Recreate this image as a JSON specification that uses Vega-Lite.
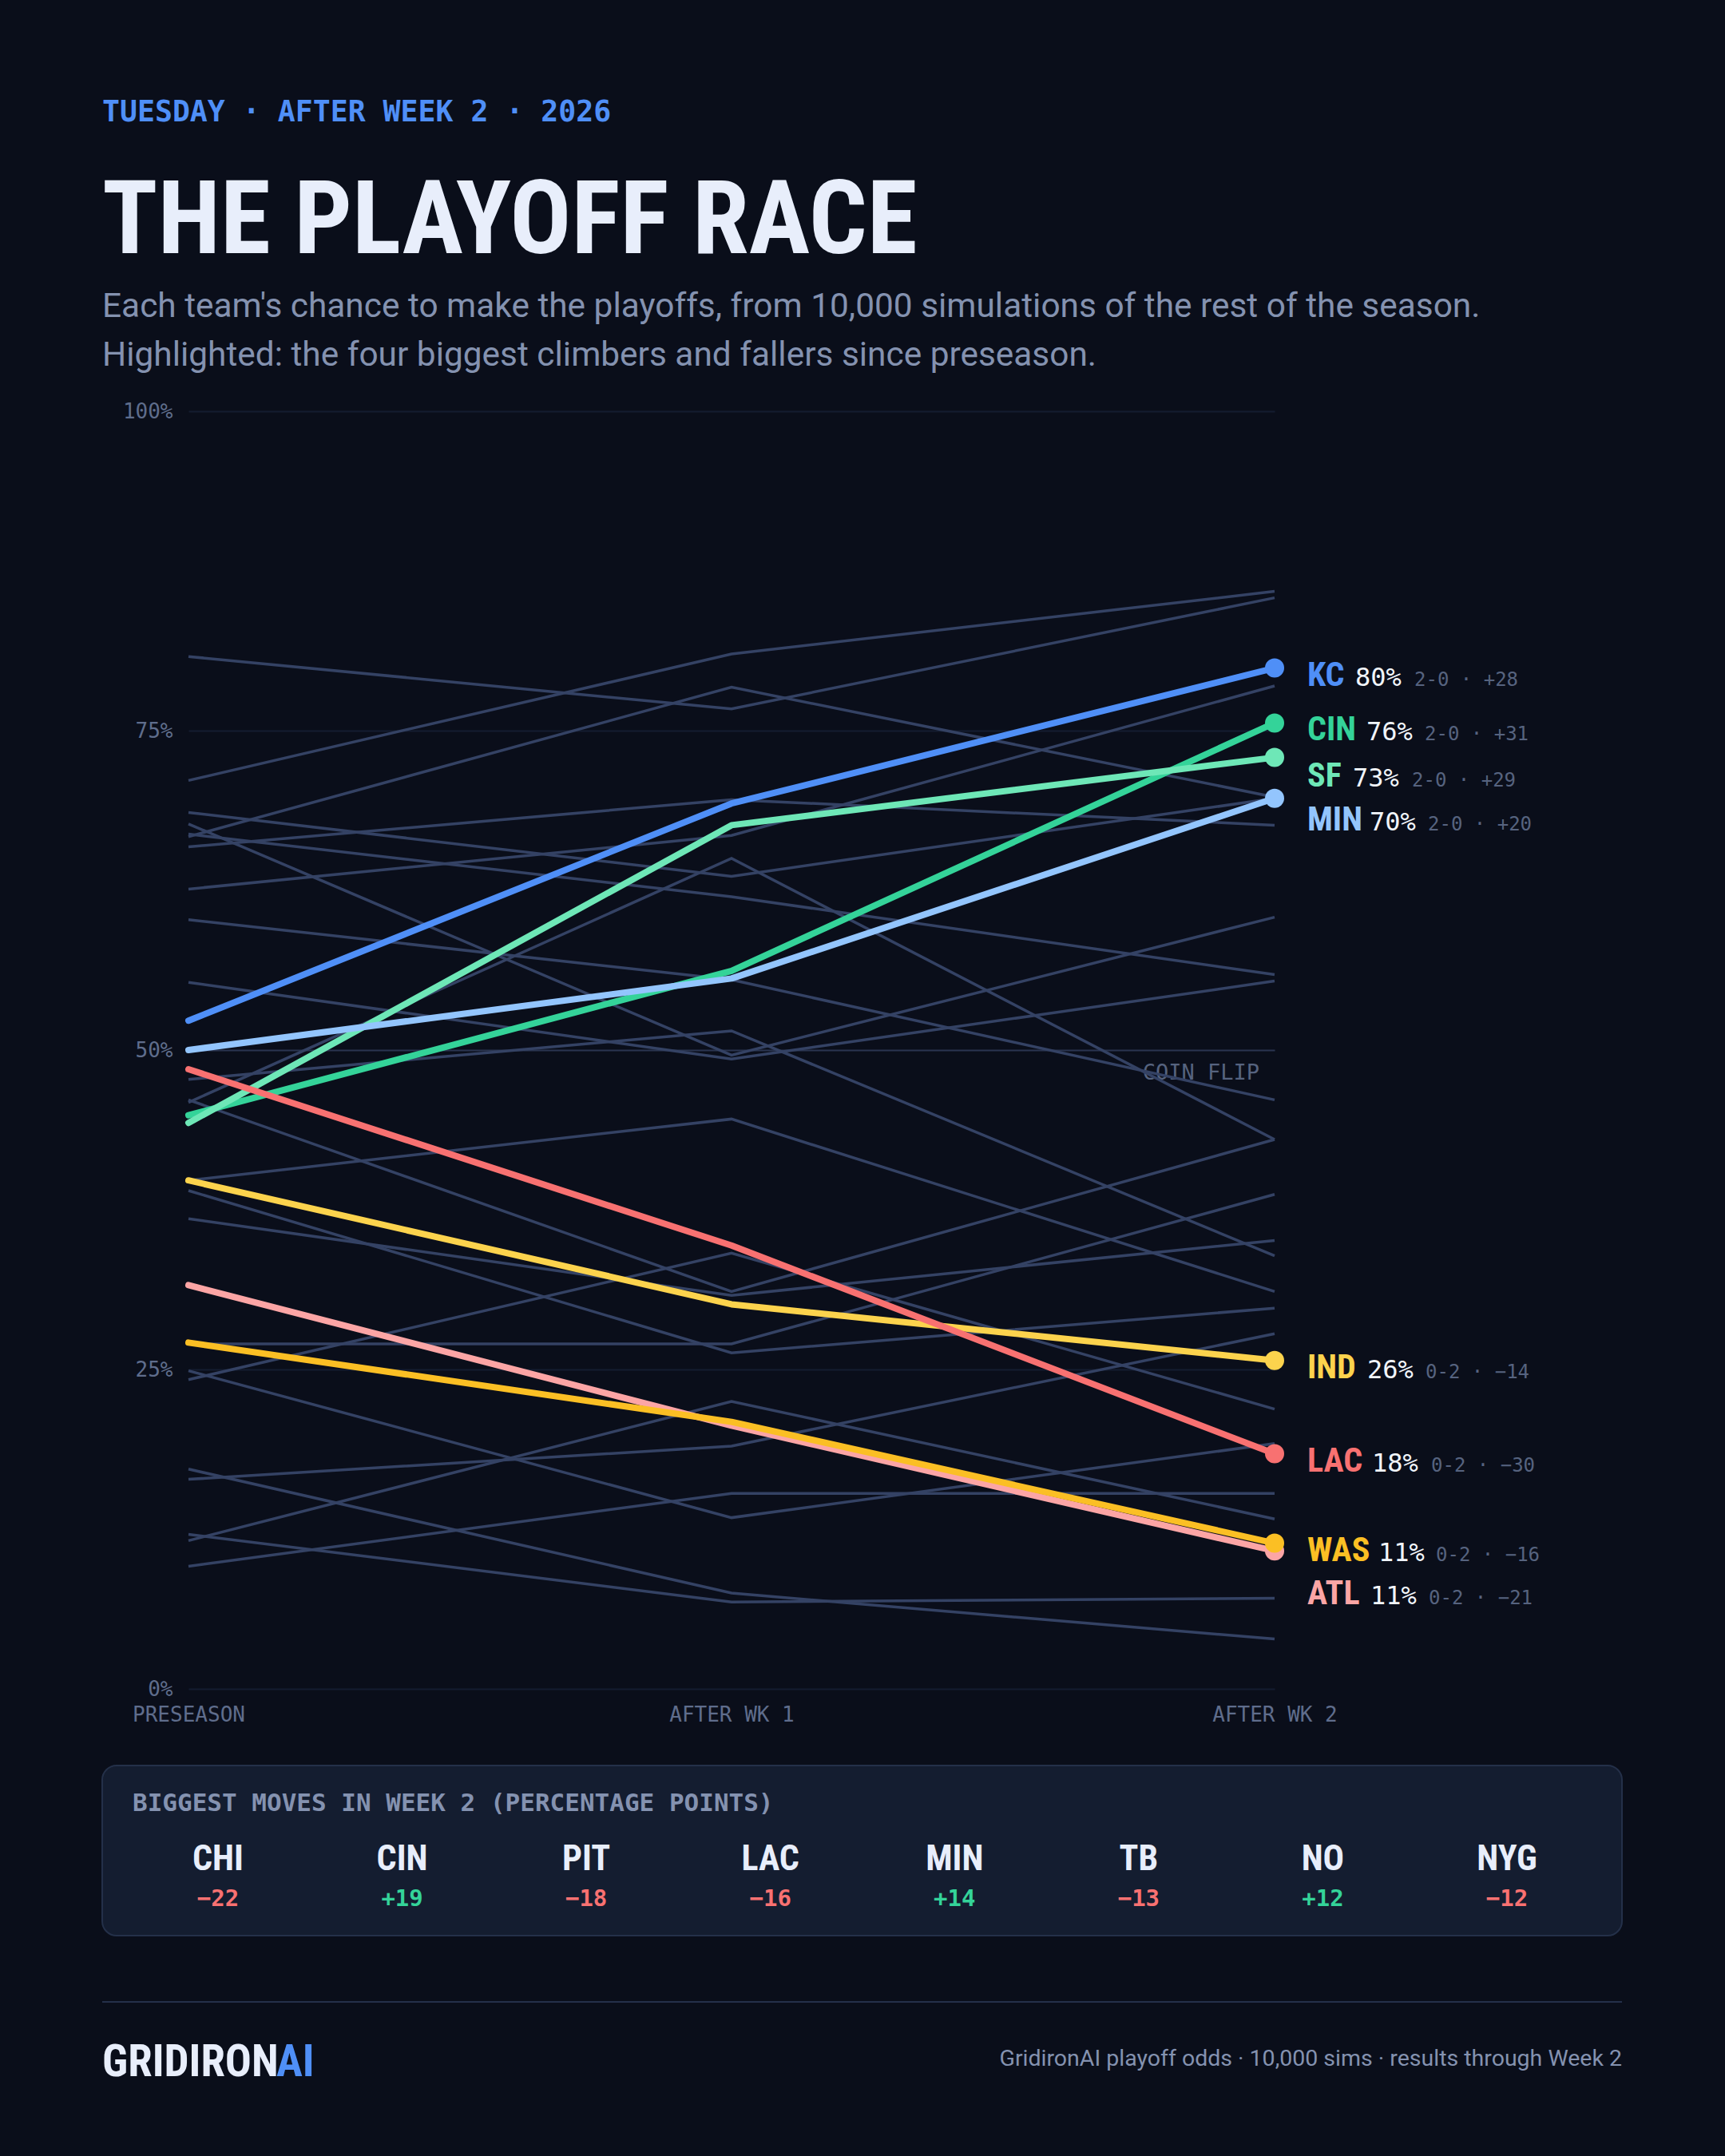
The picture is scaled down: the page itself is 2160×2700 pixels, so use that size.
{
  "$schema": "https://vega.github.io/schema/vega-lite/v6.json",
  "width": 1360,
  "height": 1600,
  "autosize": "none",
  "padding": {"left": 236, "top": 515, "right": 564, "bottom": 585},
  "background": "#0a0e1a",
  "config": {"view": {"stroke": null}},
  "params": [
    {"name": "nameDy", "value": {"KC": 22, "CIN": 22, "SF": 36, "MIN": 40, "IND": 22, "LAC": 22, "WAS": 22, "ATL": 67}},
    {"name": "pctDx", "value": {"KC": 101, "CIN": 115, "SF": 98, "MIN": 119, "IND": 116, "LAC": 122, "WAS": 130, "ATL": 120}},
    {"name": "noteDx", "value": {"KC": 175, "CIN": 188, "SF": 172, "MIN": 192, "IND": 189, "LAC": 196, "WAS": 202, "ATL": 193}}
  ],
  "datasets": {
    "odds": [
      {"team": "BUF", "stage": "PRESEASON", "pct": 80.8}, {"team": "BUF", "stage": "AFTER WK 1", "pct": 76.7}, {"team": "BUF", "stage": "AFTER WK 2", "pct": 85.4},
      {"team": "BAL", "stage": "PRESEASON", "pct": 71.1}, {"team": "BAL", "stage": "AFTER WK 1", "pct": 81.0}, {"team": "BAL", "stage": "AFTER WK 2", "pct": 85.9},
      {"team": "PHI", "stage": "PRESEASON", "pct": 68.6}, {"team": "PHI", "stage": "AFTER WK 1", "pct": 63.6}, {"team": "PHI", "stage": "AFTER WK 2", "pct": 69.7},
      {"team": "DET", "stage": "PRESEASON", "pct": 67.7}, {"team": "DET", "stage": "AFTER WK 1", "pct": 49.6}, {"team": "DET", "stage": "AFTER WK 2", "pct": 60.4},
      {"team": "GB", "stage": "PRESEASON", "pct": 66.9}, {"team": "GB", "stage": "AFTER WK 1", "pct": 62.0}, {"team": "GB", "stage": "AFTER WK 2", "pct": 55.9},
      {"team": "DAL", "stage": "PRESEASON", "pct": 66.7}, {"team": "DAL", "stage": "AFTER WK 1", "pct": 78.4}, {"team": "DAL", "stage": "AFTER WK 2", "pct": 69.8},
      {"team": "HOU", "stage": "PRESEASON", "pct": 65.9}, {"team": "HOU", "stage": "AFTER WK 1", "pct": 69.6}, {"team": "HOU", "stage": "AFTER WK 2", "pct": 67.6},
      {"team": "NO", "stage": "PRESEASON", "pct": 62.6}, {"team": "NO", "stage": "AFTER WK 1", "pct": 66.8}, {"team": "NO", "stage": "AFTER WK 2", "pct": 78.5},
      {"team": "LAR", "stage": "PRESEASON", "pct": 60.2}, {"team": "LAR", "stage": "AFTER WK 1", "pct": 55.5}, {"team": "LAR", "stage": "AFTER WK 2", "pct": 46.1},
      {"team": "SEA", "stage": "PRESEASON", "pct": 55.3}, {"team": "SEA", "stage": "AFTER WK 1", "pct": 49.3}, {"team": "SEA", "stage": "AFTER WK 2", "pct": 55.4},
      {"team": "PIT", "stage": "PRESEASON", "pct": 47.7}, {"team": "PIT", "stage": "AFTER WK 1", "pct": 51.5}, {"team": "PIT", "stage": "AFTER WK 2", "pct": 33.9},
      {"team": "MIA", "stage": "PRESEASON", "pct": 46.1}, {"team": "MIA", "stage": "AFTER WK 1", "pct": 31.1}, {"team": "MIA", "stage": "AFTER WK 2", "pct": 43.0},
      {"team": "CHI", "stage": "PRESEASON", "pct": 45.9}, {"team": "CHI", "stage": "AFTER WK 1", "pct": 65.0}, {"team": "CHI", "stage": "AFTER WK 2", "pct": 43.0},
      {"team": "TB", "stage": "PRESEASON", "pct": 39.8}, {"team": "TB", "stage": "AFTER WK 1", "pct": 44.6}, {"team": "TB", "stage": "AFTER WK 2", "pct": 31.1},
      {"team": "JAX", "stage": "PRESEASON", "pct": 39.0}, {"team": "JAX", "stage": "AFTER WK 1", "pct": 26.3}, {"team": "JAX", "stage": "AFTER WK 2", "pct": 29.8},
      {"team": "DEN", "stage": "PRESEASON", "pct": 36.8}, {"team": "DEN", "stage": "AFTER WK 1", "pct": 30.8}, {"team": "DEN", "stage": "AFTER WK 2", "pct": 35.1},
      {"team": "CLE", "stage": "PRESEASON", "pct": 27.0}, {"team": "CLE", "stage": "AFTER WK 1", "pct": 27.0}, {"team": "CLE", "stage": "AFTER WK 2", "pct": 38.7},
      {"team": "NYJ", "stage": "PRESEASON", "pct": 24.9}, {"team": "NYJ", "stage": "AFTER WK 1", "pct": 13.4}, {"team": "NYJ", "stage": "AFTER WK 2", "pct": 19.2},
      {"team": "NYG", "stage": "PRESEASON", "pct": 24.2}, {"team": "NYG", "stage": "AFTER WK 1", "pct": 34.1}, {"team": "NYG", "stage": "AFTER WK 2", "pct": 21.9},
      {"team": "ARI", "stage": "PRESEASON", "pct": 17.2}, {"team": "ARI", "stage": "AFTER WK 1", "pct": 7.5}, {"team": "ARI", "stage": "AFTER WK 2", "pct": 3.9},
      {"team": "CAR", "stage": "PRESEASON", "pct": 16.4}, {"team": "CAR", "stage": "AFTER WK 1", "pct": 19.0}, {"team": "CAR", "stage": "AFTER WK 2", "pct": 27.8},
      {"team": "LV", "stage": "PRESEASON", "pct": 12.1}, {"team": "LV", "stage": "AFTER WK 1", "pct": 6.8}, {"team": "LV", "stage": "AFTER WK 2", "pct": 7.1},
      {"team": "NE", "stage": "PRESEASON", "pct": 11.6}, {"team": "NE", "stage": "AFTER WK 1", "pct": 22.5}, {"team": "NE", "stage": "AFTER WK 2", "pct": 13.3},
      {"team": "TEN", "stage": "PRESEASON", "pct": 9.6}, {"team": "TEN", "stage": "AFTER WK 1", "pct": 15.3}, {"team": "TEN", "stage": "AFTER WK 2", "pct": 15.3}
    ],
    "climbers": [
      {"team": "CIN", "stage": "PRESEASON", "pct": 44.9}, {"team": "CIN", "stage": "AFTER WK 1", "pct": 56.2}, {"team": "CIN", "stage": "AFTER WK 2", "pct": 75.6},
      {"team": "SF", "stage": "PRESEASON", "pct": 44.3}, {"team": "SF", "stage": "AFTER WK 1", "pct": 67.6}, {"team": "SF", "stage": "AFTER WK 2", "pct": 72.9},
      {"team": "KC", "stage": "PRESEASON", "pct": 52.3}, {"team": "KC", "stage": "AFTER WK 1", "pct": 69.3}, {"team": "KC", "stage": "AFTER WK 2", "pct": 79.9},
      {"team": "MIN", "stage": "PRESEASON", "pct": 50.0}, {"team": "MIN", "stage": "AFTER WK 1", "pct": 55.6}, {"team": "MIN", "stage": "AFTER WK 2", "pct": 69.7},
      {"team": "ATL", "stage": "PRESEASON", "pct": 31.6}, {"team": "ATL", "stage": "AFTER WK 1", "pct": 20.6}, {"team": "ATL", "stage": "AFTER WK 2", "pct": 10.8},
      {"team": "WAS", "stage": "PRESEASON", "pct": 27.1}, {"team": "WAS", "stage": "AFTER WK 1", "pct": 20.9}, {"team": "WAS", "stage": "AFTER WK 2", "pct": 11.4},
      {"team": "IND", "stage": "PRESEASON", "pct": 39.8}, {"team": "IND", "stage": "AFTER WK 1", "pct": 30.1}, {"team": "IND", "stage": "AFTER WK 2", "pct": 25.7},
      {"team": "LAC", "stage": "PRESEASON", "pct": 48.5}, {"team": "LAC", "stage": "AFTER WK 1", "pct": 34.7}, {"team": "LAC", "stage": "AFTER WK 2", "pct": 18.4}
    ],
    "finals": [
      {"team": "CIN", "stage": "AFTER WK 2", "pct": 75.6, "pctLabel": "76%", "note": "2-0 · +31"},
      {"team": "SF", "stage": "AFTER WK 2", "pct": 72.9, "pctLabel": "73%", "note": "2-0 · +29"},
      {"team": "KC", "stage": "AFTER WK 2", "pct": 79.9, "pctLabel": "80%", "note": "2-0 · +28"},
      {"team": "MIN", "stage": "AFTER WK 2", "pct": 69.7, "pctLabel": "70%", "note": "2-0 · +20"},
      {"team": "ATL", "stage": "AFTER WK 2", "pct": 10.8, "pctLabel": "11%", "note": "0-2 · −21"},
      {"team": "WAS", "stage": "AFTER WK 2", "pct": 11.4, "pctLabel": "11%", "note": "0-2 · −16"},
      {"team": "IND", "stage": "AFTER WK 2", "pct": 25.7, "pctLabel": "26%", "note": "0-2 · −14"},
      {"team": "LAC", "stage": "AFTER WK 2", "pct": 18.4, "pctLabel": "18%", "note": "0-2 · −30"}
    ],
    "moves": [
      {"team": "CHI", "move": -22}, {"team": "CIN", "move": 19}, {"team": "PIT", "move": -18}, {"team": "LAC", "move": -16},
      {"team": "MIN", "move": 14}, {"team": "TB", "move": -13}, {"team": "NO", "move": 12}, {"team": "NYG", "move": -12}
    ],
    "page": [
      {"slot": "eyebrow", "band": "head", "col": "left", "text": "TUESDAY · AFTER WEEK 2 · 2026"},
      {"slot": "title", "band": "head", "col": "left", "text": "THE PLAYOFF RACE"},
      {"slot": "sub1", "band": "head", "col": "left", "text": "Each team's chance to make the playoffs, from 10,000 simulations of the rest of the season."},
      {"slot": "sub2", "band": "head", "col": "left", "text": "Highlighted: the four biggest climbers and fallers since preseason."},
      {"slot": "movesHead", "band": "foot", "col": "left", "text": "BIGGEST MOVES IN WEEK 2 (PERCENTAGE POINTS)"},
      {"slot": "brand", "band": "foot", "col": "left", "text": "GRIDIRON"},
      {"slot": "brandAi", "band": "foot", "col": "left", "text": "AI"},
      {"slot": "source", "band": "foot", "col": "right", "text": "GridironAI playoff odds · 10,000 sims · results through Week 2"}
    ]
  },
  "resolve": {
    "scale": {"x": "independent", "y": "independent"},
    "axis": {"x": "independent", "y": "independent"}
  },
  "layer": [
    {
      "encoding": {
        "x": {
          "field": "stage",
          "type": "nominal",
          "title": null,
          "scale": {"type": "point", "domain": ["PRESEASON", "AFTER WK 1", "AFTER WK 2"], "padding": 0},
          "axis": {
            "domain": false,
            "ticks": false,
            "labelAngle": 0,
            "labelFont": "DejaVu Sans Mono",
            "labelFontSize": 26,
            "labelColor": "#5f6d8c",
            "labelPadding": 19,
            "labelFlush": false,
            "labelBound": false,
            "labelOverlap": false
          }
        },
        "y": {
          "field": "pct",
          "type": "quantitative",
          "title": null,
          "scale": {"domain": [0, 100]},
          "axis": {
            "values": [0, 25, 50, 75, 100],
            "labelExpr": "datum.value + '%'",
            "domain": false,
            "ticks": false,
            "grid": true,
            "gridWidth": 2,
            "gridColor": {"condition": {"test": "datum.value === 50", "value": "#2a3550"}, "value": "#141c30"},
            "labelFont": "DejaVu Sans Mono",
            "labelFontSize": 26,
            "labelColor": "#5f6d8c",
            "labelPadding": 20,
            "labelBound": false
          }
        }
      },
      "layer": [
        {
          "data": {"values": [{"stage": "AFTER WK 2", "pct": 50, "text": "COIN FLIP"}]},
          "mark": {"type": "text", "font": "DejaVu Sans Mono", "fontSize": 27, "align": "right", "baseline": "alphabetic", "dx": -19, "dy": 37, "color": "#56637f"},
          "encoding": {"text": {"field": "text", "type": "nominal"}}
        },
        {
          "data": {"name": "odds"},
          "mark": {"type": "line", "color": "#344264", "strokeWidth": 3.5, "clip": false},
          "encoding": {"detail": {"field": "team", "type": "nominal"}}
        },
        {
          "data": {"name": "climbers"},
          "mark": {"type": "line", "strokeWidth": 8, "strokeCap": "round", "strokeJoin": "round"},
          "encoding": {
            "color": {
              "field": "team",
              "type": "nominal",
              "legend": null,
              "scale": {
                "domain": ["KC", "CIN", "SF", "MIN", "IND", "LAC", "WAS", "ATL"],
                "range": ["#4f8ff7", "#34d399", "#6ee7b7", "#93c5fd", "#fcd34d", "#f87171", "#fbbf24", "#fca5a5"]
              }
            }
          }
        },
        {
          "data": {"name": "finals"},
          "mark": {"type": "circle", "size": 576, "opacity": 1},
          "encoding": {"color": {"field": "team", "type": "nominal", "legend": null}}
        },
        {
          "data": {"name": "finals"},
          "mark": {"type": "text", "font": "Noto Sans ExtraCondensed, Noto Sans Condensed, Roboto Condensed, Open Sans Condensed, Roboto", "fontWeight": "bold", "fontSize": 42, "align": "left", "baseline": "alphabetic", "dx": 41, "dy": {"expr": "nameDy[datum.team]"}},
          "encoding": {"text": {"field": "team", "type": "nominal"}, "color": {"field": "team", "type": "nominal", "legend": null}}
        },
        {
          "data": {"name": "finals"},
          "mark": {"type": "text", "font": "DejaVu Sans Mono", "fontSize": 32, "align": "left", "baseline": "alphabetic", "color": "#f1f5fb", "dx": {"expr": "pctDx[datum.team]"}, "dy": {"expr": "nameDy[datum.team]"}},
          "encoding": {"text": {"field": "pctLabel", "type": "nominal"}}
        },
        {
          "data": {"name": "finals"},
          "mark": {"type": "text", "font": "DejaVu Sans Mono", "fontSize": 24, "align": "left", "baseline": "alphabetic", "color": "#56637f", "dx": {"expr": "noteDx[datum.team]"}, "dy": {"expr": "nameDy[datum.team]"}},
          "encoding": {"text": {"field": "note", "type": "nominal"}}
        }
      ]
    },
    {
      "data": {"values": [{"from": 0, "to": 1}]},
      "mark": {"type": "rect", "fill": "#141d30", "stroke": "#243049", "strokeWidth": 2, "cornerRadius": 18},
      "encoding": {
        "x": {"field": "from", "type": "quantitative", "axis": null, "scale": {"domain": [0, 1], "range": [-108, 1795]}},
        "x2": {"field": "to"},
        "y": {"field": "from", "type": "quantitative", "axis": null, "scale": {"domain": [0, 1], "range": [1696, 1909]}},
        "y2": {"field": "to"}
      }
    },
    {
      "data": {"values": [{"from": 0, "to": 1}]},
      "mark": {"type": "rule", "color": "#243049", "strokeWidth": 2},
      "encoding": {
        "x": {"field": "from", "type": "quantitative", "axis": null, "scale": {"domain": [0, 1], "range": [-108, 1795]}},
        "x2": {"field": "to"},
        "y": {"datum": "footer", "type": "nominal", "axis": null, "scale": {"type": "point", "domain": ["footer"], "range": [1992, 1992]}}
      }
    },
    {
      "data": {"name": "moves"},
      "encoding": {
        "x": {"field": "team", "type": "nominal", "axis": null, "scale": {"type": "point", "domain": ["CHI", "CIN", "PIT", "LAC", "MIN", "TB", "NO", "NYG"], "range": [37, 1651], "padding": 0}},
        "y": {"datum": "team", "type": "nominal", "axis": null, "scale": {"type": "point", "domain": ["team", "move"], "range": [1827, 1872], "padding": 0}}
      },
      "layer": [
        {
          "mark": {"type": "text", "font": "Noto Sans ExtraCondensed, Noto Sans Condensed, Roboto Condensed, Open Sans Condensed, Roboto", "fontWeight": "bold", "fontSize": 44, "baseline": "alphabetic", "color": "#e8eefb"},
          "encoding": {"text": {"field": "team", "type": "nominal"}}
        },
        {
          "mark": {"type": "text", "font": "DejaVu Sans Mono", "fontWeight": "bold", "fontSize": 29, "baseline": "alphabetic"},
          "encoding": {
            "y": {"datum": "move", "type": "nominal", "axis": null, "scale": {"type": "point", "domain": ["team", "move"], "range": [1827, 1872], "padding": 0}},
            "text": {"field": "move", "type": "quantitative", "format": "+d"},
            "color": {"condition": {"test": "datum.move > 0", "value": "#34d399"}, "value": "#f87171"}
          }
        }
      ]
    },
    {
      "data": {"name": "page"},
      "encoding": {
        "x": {"field": "col", "type": "nominal", "axis": null, "scale": {"type": "point", "domain": ["left", "right"], "range": [-108, 1795], "padding": 0}},
        "y": {"field": "band", "type": "nominal", "axis": null, "scale": {"type": "point", "domain": ["head", "foot"], "range": [-363, 2085], "padding": 0}},
        "text": {"field": "text", "type": "nominal"}
      },
      "layer": [
        {
          "transform": [{"filter": "datum.slot === 'eyebrow'"}],
          "mark": {"type": "text", "font": "DejaVu Sans Mono", "fontWeight": "bold", "fontSize": 36.5, "align": "left", "baseline": "alphabetic", "color": "#4f8ff7"}
        },
        {
          "transform": [{"filter": "datum.slot === 'title'"}],
          "mark": {"type": "text", "font": "Noto Sans ExtraCondensed, Noto Sans Condensed, Roboto Condensed, Open Sans Condensed, Roboto", "fontWeight": "bold", "fontSize": 128, "align": "left", "baseline": "alphabetic", "dy": 165, "color": "#e8eefb"}
        },
        {
          "transform": [{"filter": "datum.slot === 'sub1'"}],
          "mark": {"type": "text", "font": "Roboto", "fontSize": 42.4, "align": "left", "baseline": "alphabetic", "dy": 245, "color": "#8492b0"}
        },
        {
          "transform": [{"filter": "datum.slot === 'sub2'"}],
          "mark": {"type": "text", "font": "Roboto", "fontSize": 42.4, "align": "left", "baseline": "alphabetic", "dy": 306, "color": "#8492b0"}
        },
        {
          "transform": [{"filter": "datum.slot === 'movesHead'"}],
          "mark": {"type": "text", "font": "DejaVu Sans Mono", "fontWeight": "bold", "fontSize": 31, "align": "left", "baseline": "alphabetic", "dx": 38, "dy": -332, "color": "#8492b0"}
        },
        {
          "transform": [{"filter": "datum.slot === 'brand'"}],
          "mark": {"type": "text", "font": "Noto Sans ExtraCondensed, Noto Sans Condensed, Roboto Condensed, Open Sans Condensed, Roboto", "fontWeight": "bold", "fontSize": 55, "align": "left", "baseline": "alphabetic", "color": "#e8eefb"}
        },
        {
          "transform": [{"filter": "datum.slot === 'brandAi'"}],
          "mark": {"type": "text", "font": "Noto Sans ExtraCondensed, Noto Sans Condensed, Roboto Condensed, Open Sans Condensed, Roboto", "fontWeight": "bold", "fontSize": 55, "align": "left", "baseline": "alphabetic", "dx": 218, "color": "#4f8ff7"}
        },
        {
          "transform": [{"filter": "datum.slot === 'source'"}],
          "mark": {"type": "text", "font": "Roboto", "fontSize": 28.5, "align": "right", "baseline": "alphabetic", "dy": -13, "color": "#8492b0"}
        }
      ]
    }
  ]
}
